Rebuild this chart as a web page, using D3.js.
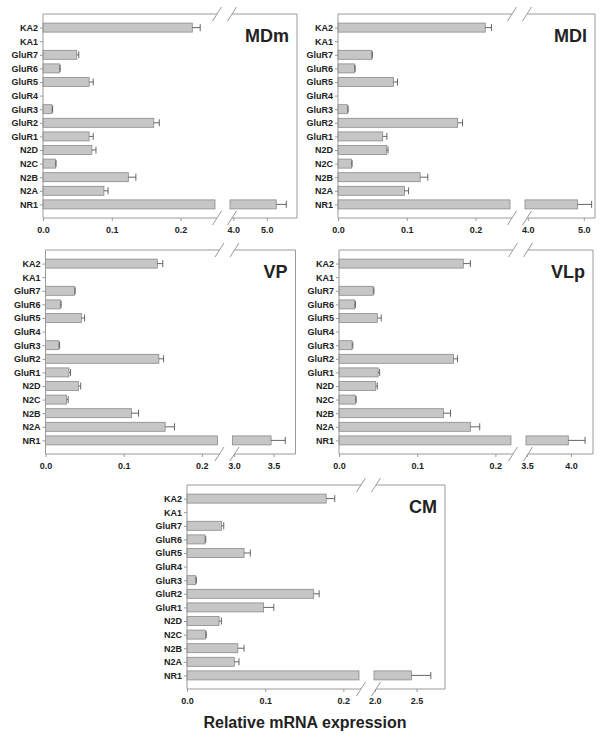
<!DOCTYPE html>
<html>
<head>
<meta charset="utf-8">
<script src="https://cdn.jsdelivr.net/npm/d3@7"></script>
<style>
  body { margin: 0; background: #fff; }
  text { font-family: "Liberation Sans", Arial, sans-serif; font-weight: bold; fill: #222; }
</style>
</head>
<body>
<svg id="chart" width="602" height="740"></svg>
<script>
// rows, top to bottom
var categories = ['KA2', 'KA1', 'GluR7', 'GluR6', 'GluR5', 'GluR4', 'GluR3', 'GluR2', 'GluR1', 'N2D', 'N2C', 'N2B', 'N2A', 'NR1'];

var panelNames = ['MDm', 'MDl', 'VP', 'VLp', 'CM'];

// mean relative expression, same order as categories
var mdmValues = [0.217, 0, 0.049, 0.024, 0.067, 0, 0.013, 0.161, 0.067, 0.071, 0.018, 0.124, 0.0885, 5.28];
var mdmErrors = [0.0115, 0, 0.003, 0.001, 0.006, 0, 0.001, 0.008, 0.006, 0.006, 0.001, 0.011, 0.006, 0.30];

var mdlValues = [0.214, 0, 0.049, 0.024, 0.0805, 0, 0.0137, 0.174, 0.065, 0.0707, 0.0195, 0.1195, 0.0966, 4.89];
var mdlErrors = [0.009, 0, 0.001, 0.001, 0.006, 0, 0.001, 0.007, 0.006, 0.002, 0.001, 0.011, 0.006, 0.25];

var vpValues = [0.143, 0, 0.037, 0.019, 0.046, 0, 0.017, 0.145, 0.030, 0.042, 0.027, 0.110, 0.153, 3.47];
var vpErrors = [0.007, 0, 0.001, 0.001, 0.004, 0, 0.001, 0.006, 0.002, 0.003, 0.002, 0.009, 0.012, 0.18];

var vlpValues = [0.159, 0, 0.0437, 0.020, 0.049, 0, 0.0167, 0.1465, 0.050, 0.047, 0.021, 0.1336, 0.168, 3.97];
var vlpErrors = [0.009, 0, 0.001, 0.001, 0.005, 0, 0.001, 0.005, 0.002, 0.002, 0.001, 0.009, 0.012, 0.19];

var cmValues = [0.178, 0, 0.044, 0.023, 0.073, 0, 0.011, 0.162, 0.098, 0.041, 0.0236, 0.065, 0.0605, 2.44];
var cmErrors = [0.011, 0, 0.003, 0.001, 0.008, 0, 0.001, 0.007, 0.013, 0.003, 0.001, 0.008, 0.006, 0.23];

// axis pieces on each side of the break
var lowerDomains = [[0, 0.25], [0, 0.25], [0, 0.22], [0, 0.22], [0, 0.22]];
var upperDomains = [[3.9, 5.9], [3.95, 5.2], [2.98, 3.78], [3.49, 4.25], [1.99, 2.84]];
var lowerTicks = [0, 0.1, 0.2];
var upperTicks = [[4, 5], [4, 5], [3.0, 3.5], [3.5, 4.0], [2.0, 2.5]];

var values = [mdmValues, mdlValues, vpValues, vlpValues, cmValues];
var errors = [mdmErrors, mdlErrors, vpErrors, vlpErrors, cmErrors];

// where each panel frame sits
var layout = [
  {x: 43, y: 14, w: 254},
  {x: 338, y: 14, w: 257},
  {x: 45.5, y: 250, w: 250},
  {x: 339, y: 250, w: 254},
  {x: 187, y: 485, w: 258}
];
var frameH = 204, lowerEnd = 172, upperStart = 187, barH = 9;
var frameColor = '#9a9a9a';

var svg = d3.select('#chart');

panelNames.forEach(function(name, p) {
  var L = layout[p];
  var g = svg.append('g').attr('transform', 'translate(' + L.x + ',' + L.y + ')');

  var y = d3.scalePoint().domain(categories).range([0, frameH]).padding(1);
  var xLow = d3.scaleLinear().domain(lowerDomains[p]).range([0, lowerEnd]);
  var xHigh = d3.scaleLinear().domain(upperDomains[p]).range([upperStart, L.w]);
  var lowMax = lowerDomains[p][1];

  var rows = categories.map(function(c, i) {
    return {cat: c, value: values[p][i], err: errors[p][i]};
  });

  // bars (broken ones get two pieces)
  var bars = g.append('g');
  rows.forEach(function(d) {
    if (d.value <= 0) return;
    var yy = y(d.cat) - barH / 2;
    var endLow = d.value > lowMax ? lowerEnd : xLow(d.value);
    bars.append('rect')
      .attr('x', 0).attr('y', yy)
      .attr('width', endLow).attr('height', barH)
      .attr('fill', '#c6c6c6').attr('stroke', '#8a8a8a').attr('stroke-width', 0.8);
    if (d.value > lowMax) {
      bars.append('rect')
        .attr('x', upperStart).attr('y', yy)
        .attr('width', xHigh(d.value) - upperStart).attr('height', barH)
        .attr('fill', '#c6c6c6').attr('stroke', '#8a8a8a').attr('stroke-width', 0.8);
    }
  });

  // one-sided error bars
  rows.forEach(function(d) {
    if (d.value <= 0 || d.err <= 0) return;
    var sc = d.value > lowMax ? xHigh : xLow;
    var x1 = sc(d.value), x2 = sc(d.value + d.err), yc = y(d.cat);
    g.append('line').attr('x1', x1).attr('x2', x2).attr('y1', yc).attr('y2', yc)
      .attr('stroke', '#555').attr('stroke-width', 0.9);
    g.append('line').attr('x1', x2).attr('x2', x2).attr('y1', yc - 3.5).attr('y2', yc + 3.5)
      .attr('stroke', '#555').attr('stroke-width', 0.9);
  });

  // frame with gaps at the break
  var s1 = lowerEnd + 2, s2 = upperStart + 2;
  var frame = g.append('g').attr('stroke', frameColor).attr('stroke-width', 1).attr('fill', 'none');
  frame.append('path').attr('d',
    'M' + s1 + ',0H0V' + frameH + 'H' + s1 +
    'M' + s2 + ',0H' + L.w + 'V' + frameH + 'H' + s2);
  [0, frameH].forEach(function(yy) {
    [s1, s2].forEach(function(sx) {
      frame.append('line')
        .attr('x1', sx - 4.5).attr('y1', yy + 7)
        .attr('x2', sx + 4.5).attr('y2', yy - 7);
    });
  });

  // left axis: labels with small outward ticks
  var yAxis = g.append('g').call(d3.axisLeft(y).tickSize(3).tickPadding(2));
  yAxis.select('.domain').remove();
  yAxis.selectAll('line').attr('stroke', frameColor);
  yAxis.selectAll('text').attr('font-size', 9).attr('fill', '#222')
    .style('font-family', '"Liberation Sans", Arial, sans-serif').style('font-weight', 'bold');

  // bottom axis, both pieces
  [[xLow, lowerTicks], [xHigh, upperTicks[p]]].forEach(function(pair) {
    var ax = g.append('g').attr('transform', 'translate(0,' + frameH + ')')
      .call(d3.axisBottom(pair[0]).tickValues(pair[1]).tickFormat(d3.format('.1f')).tickSize(3).tickPadding(6));
    ax.select('.domain').remove();
    ax.selectAll('line').attr('stroke', frameColor);
    ax.selectAll('text').attr('font-size', 9).attr('fill', '#222')
      .style('font-family', '"Liberation Sans", Arial, sans-serif').style('font-weight', 'bold');
  });

  g.append('text')
    .attr('x', L.w - 8).attr('y', 28)
    .attr('text-anchor', 'end')
    .attr('font-size', 18)
    .text(name);
});

svg.append('text')
  .attr('x', 305).attr('y', 728)
  .attr('text-anchor', 'middle')
  .attr('font-size', 16)
  .text('Relative mRNA expression');
</script>
</body>
</html>
